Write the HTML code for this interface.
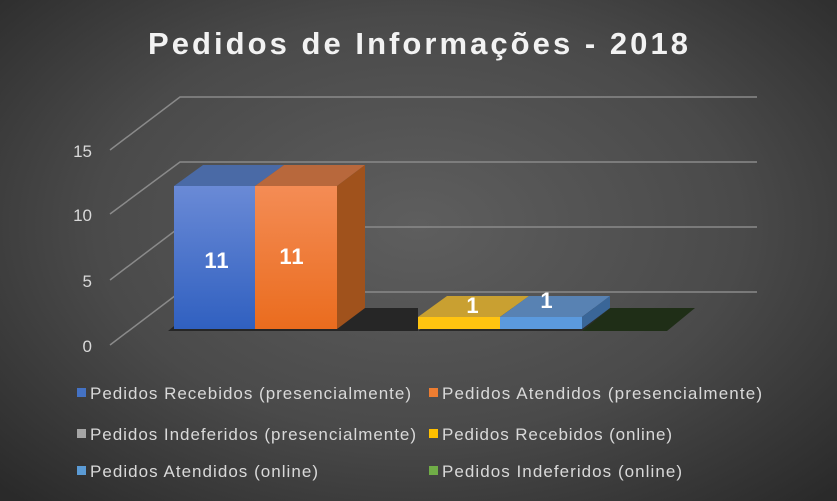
<!DOCTYPE html>
<html><head><meta charset="utf-8"><style>
body{margin:0;width:837px;height:501px;overflow:hidden;background:radial-gradient(ellipse 70% 75% at 50% 45%,#5e5e5e 0%,#4a4a4a 55%,#2a2a2a 100%);font-family:"Liberation Sans","DejaVu Sans",sans-serif}
svg{position:absolute;left:0;top:0}
</style></head><body>
<svg width="837" height="501" viewBox="0 0 837 501">
<defs>
<linearGradient id="gb" x1="0" y1="0" x2="0" y2="1"><stop offset="0" stop-color="#6a8ad6"/><stop offset="1" stop-color="#3060c0"/></linearGradient>
<linearGradient id="go" x1="0" y1="0" x2="0" y2="1"><stop offset="0" stop-color="#f48c55"/><stop offset="1" stop-color="#ea6c1e"/></linearGradient>
</defs>
<text x="148" y="54" textLength="540" lengthAdjust="spacing" font-size="31" font-weight="bold" fill="#f2f2f2">Pedidos de Informações - 2018</text>
<g stroke="#8a8a8a" stroke-width="1.5" fill="none">
<polyline points="110,150 180,97 757,97"/>
<polyline points="110,214 180,162 757,162"/>
<polyline points="110,280 180,227 757,227"/>
<polyline points="110,345 180,292 757,292"/>
</g>
<g fill="#d9d9d9" font-size="17" text-anchor="end">
<text x="92" y="157">15</text><text x="92" y="221">10</text><text x="92" y="287">5</text><text x="92" y="352">0</text>
</g>
<polygon points="168,331 196,308 418,308 418,331" fill="#262626"/>
<polygon points="418,331 447,308 610,308 582,331" fill="#2a2a2a"/>
<polygon points="582,331 610,308 695,308 667,331" fill="#1f2e17"/>
<polygon points="174,186 203,165 284,165 255,186" fill="#4a6aa6"/>
<rect x="174" y="186" width="81" height="143" fill="url(#gb)"/>
<polygon points="255,186 284,165 365,165 337,186" fill="#b8683c"/>
<polygon points="337,186 365,165 365,308 337,329" fill="#a0521c"/>
<rect x="255" y="186" width="82" height="143" fill="url(#go)"/>
<polygon points="418,317 447,296 529,296 500,317" fill="#c9a031"/>
<rect x="418" y="317" width="82" height="12" fill="#ffc410"/>
<polygon points="500,317 529,296 610,296 582,317" fill="#5882b3"/>
<polygon points="582,317 610,296 610,308 582,329" fill="#3a6698"/>
<rect x="500" y="317" width="82" height="12" fill="#5b9ade"/>
<g fill="#fff" font-size="22" font-weight="bold" text-anchor="middle" letter-spacing="1">
<text x="217" y="268">11</text><text x="292" y="264">11</text>
<text x="473" y="313">1</text><text x="547" y="308">1</text>
</g>
<g font-size="17" fill="#d9d9d9" lengthAdjust="spacingAndGlyphs">
<rect x="77" y="388" width="9" height="9" fill="#4472c4"/><text x="90" y="399" textLength="321">Pedidos Recebidos (presencialmente)</text>
<rect x="429" y="388" width="9" height="9" fill="#ed7d31"/><text x="442" y="399" textLength="320">Pedidos Atendidos (presencialmente)</text>
<rect x="77" y="429" width="9" height="9" fill="#a5a5a5"/><text x="90" y="440" textLength="326">Pedidos Indeferidos (presencialmente)</text>
<rect x="429" y="429" width="9" height="9" fill="#ffc000"/><text x="442" y="440" textLength="230">Pedidos Recebidos (online)</text>
<rect x="77" y="466" width="9" height="9" fill="#5b9bd5"/><text x="90" y="477" textLength="228">Pedidos Atendidos (online)</text>
<rect x="429" y="466" width="9" height="9" fill="#70ad47"/><text x="442" y="477" textLength="240">Pedidos Indeferidos (online)</text>
</g>
</svg>
</body></html>
